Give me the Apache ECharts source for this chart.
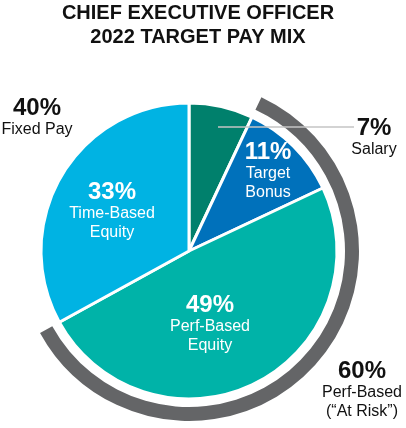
<!DOCTYPE html>
<html>
<head>
<meta charset="utf-8">
<script src="https://cdn.jsdelivr.net/npm/echarts@6/dist/echarts.min.js"></script>
<style>
  html, body { margin: 0; padding: 0; background: #fff; }
  #chart { width: 406px; height: 428px; }
</style>
</head>
<body>
<div id="chart"></div>
<script>
var categories = ['Salary', 'Target\nBonus', 'Perf-Based\nEquity', 'Time-Based\nEquity'];
var shares = [7, 11, 49, 33];
var groupNames = ['Fixed Pay', 'Perf-Based\n(\u201cAt Risk\u201d)'];
var groupShares = [40, 60];

var colors = ['#00806c', '#0071bb', '#00b3a8', '#00b3e3'];
var ringColor = '#646567';
var font = 'Liberation Sans, Arial, sans-serif';

// where each label block sits (center)
var slicePos = [[374, 138], [268, 171], [210, 324], [112, 211]];
var ringPos = [null, [362, 390], [37, 118]];

var dom = document.getElementById('chart');
var myChart = echarts.init(dom);

function richFor(color) {
    return {
        b: {fontFamily: font, fontSize: 24, fontWeight: 'bold', color: color, lineHeight: 24, align: 'center'},
        n: {fontFamily: font, fontSize: 16, color: color, lineHeight: 19, align: 'center'}
    };
}

var sliceData = [];
for (var i = 0; i < shares.length; i++) {
    sliceData.push({
        name: categories[i],
        value: shares[i],
        itemStyle: {color: colors[i]}
    });
}
// salary label is dark, sits outside the pie
sliceData[0].label = {rich: richFor('#111')};

// outer ring: salary (hidden), at-risk part, time-based (hidden)
var ringData = [
    {value: shares[0], itemStyle: {color: 'transparent'}, label: {show: false}},
    {value: groupShares[1], name: groupNames[1], pct: groupShares[1], itemStyle: {color: ringColor}},
    {value: shares[3], name: groupNames[0], pct: groupShares[0], itemStyle: {color: 'transparent'}}
];

var option = {
    animation: false,
    title: {
        text: 'CHIEF EXECUTIVE OFFICER\n2022 TARGET PAY MIX',
        left: 198,
        top: 1,
        padding: 0,
        textAlign: 'center',
        textStyle: {
            fontFamily: font,
            fontSize: 20,
            fontWeight: 'bold',
            lineHeight: 24,
            color: '#111'
        }
    },
    graphic: [
        {
            type: 'line',
            shape: {x1: 218, y1: 127, x2: 354, y2: 127},
            style: {stroke: '#c4c4c4', lineWidth: 1.5},
            z: 10
        }
    ],
    series: [
        {
            type: 'pie',
            center: [189, 251],
            radius: [0, 148],
            startAngle: 90,
            clockwise: true,
            itemStyle: {borderColor: '#fff', borderWidth: 3},
            label: {
                show: true,
                position: 'inside',
                formatter: function (p) {
                    return '{b|' + p.value + '%}\n{n|' + p.name + '}';
                },
                rich: richFor('#fff')
            },
            labelLayout: function (p) {
                var pos = slicePos[p.dataIndex];
                return {x: pos[0], y: pos[1], align: 'center', verticalAlign: 'middle'};
            },
            labelLine: {show: false},
            data: sliceData
        },
        {
            type: 'pie',
            center: [189, 251],
            radius: [156, 170],
            startAngle: 90,
            clockwise: true,
            silent: true,
            label: {
                show: true,
                position: 'inside',
                formatter: function (p) {
                    return '{b|' + p.data.pct + '%}\n{n|' + p.name + '}';
                },
                rich: richFor('#111')
            },
            labelLayout: function (p) {
                var pos = ringPos[p.dataIndex];
                if (!pos) return {};
                return {x: pos[0], y: pos[1], align: 'center', verticalAlign: 'middle'};
            },
            labelLine: {show: false},
            data: ringData
        }
    ]
};

if (option && typeof option === 'object') {
    myChart.setOption(option, true);
}
</script>
</body>
</html>
